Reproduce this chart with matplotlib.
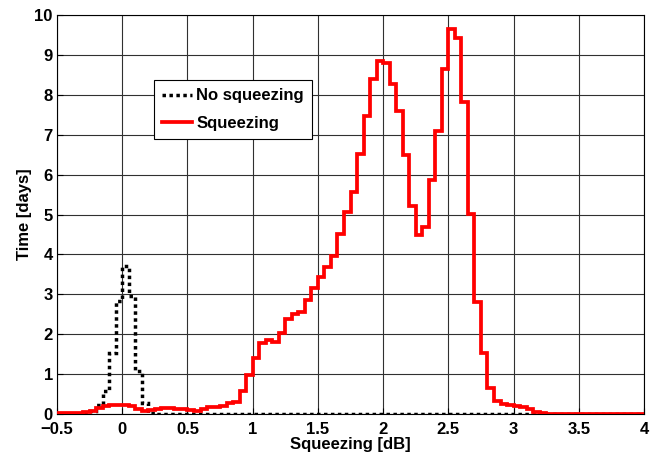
import numpy as np
import matplotlib
matplotlib.use('Agg')
import matplotlib.pyplot as plt

# bords des classes : pas de 0.05 dB de -0.5 a 4
bin_start = -0.5
bin_width = 0.05
n_bins = 90

# Sans squeezing (a partir de -0.3 dB)
no_sq_start = -0.3
no_sq_values = [0.03, 0.08, 0.22, 0.58, 1.53, 2.83, 3.72, 2.95, 1.07, 0.27, 0.03]

# Avec squeezing (a partir de -0.5 dB)
sq_values = [0.025, 0.025, 0.025, 0.025, 0.04, 0.08, 0.14, 0.19, 0.22, 0.23,
             0.23, 0.21, 0.13, 0.07, 0.09, 0.12, 0.14, 0.15, 0.13, 0.12,
             0.11, 0.08, 0.12, 0.17, 0.18, 0.19, 0.27, 0.30, 0.57, 0.98,
             1.41, 1.77, 1.85, 1.80, 2.02, 2.37, 2.50, 2.56, 2.87, 3.17,
             3.44, 3.69, 3.97, 4.51, 5.07, 5.57, 6.53, 7.47, 8.40, 8.85,
             8.80, 8.27, 7.60, 6.49, 5.21, 4.49, 4.68, 5.86, 7.09, 8.64,
             9.65, 9.43, 7.83, 5.01, 2.80, 1.52, 0.66, 0.33, 0.25, 0.23,
             0.20, 0.17, 0.12, 0.06, 0.02]

x_ticks = [-0.5, 0, 0.5, 1, 1.5, 2, 2.5, 3, 3.5, 4]
x_tick_labels = ['\u22120.5', '0', '0.5', '1', '1.5', '2', '2.5', '3', '3.5', '4']
y_ticks = list(range(0, 11))

edges = bin_start + bin_width * np.arange(n_bins + 1)

no_sq = np.zeros(n_bins)
i0 = int(round((no_sq_start - bin_start) / bin_width))
no_sq[i0:i0 + len(no_sq_values)] = no_sq_values

sq = np.zeros(n_bins)
sq[:len(sq_values)] = sq_values

plt.rcParams['font.family'] = ['Liberation Sans', 'DejaVu Sans']
plt.rcParams['font.weight'] = 'bold'

fig = plt.figure(figsize=(6.6, 4.58), dpi=100)
ax = fig.add_axes([0.0864, 0.0961, 0.8894, 0.8709])

ax.stairs(no_sq, edges, color='black', lw=2.5, linestyle=(0, (1, 1)),
          label='No squeezing', zorder=3)
ax.stairs(sq, edges, color='red', lw=2.7, label='Squeezing', zorder=4)

ax.set_xlim(-0.5, 4)
ax.set_ylim(0, 10)
ax.set_xticks(x_ticks)
ax.set_xticklabels(x_tick_labels)
ax.set_yticks(y_ticks)
ax.tick_params(axis='both', labelsize=12, direction='in', length=4, width=0.8)
ax.tick_params(axis='x', pad=6)
ax.tick_params(axis='y', pad=3)
for lab in ax.get_xticklabels() + ax.get_yticklabels():
    lab.set_fontweight('bold')

ax.grid(True, color='#303030', lw=0.8)
ax.set_axisbelow(True)
for s in ax.spines.values():
    s.set_linewidth(0.8)

ax.set_xlabel('Squeezing [dB]', fontsize=12, fontweight='bold', labelpad=0)
ax.set_ylabel('Time [days]', fontsize=12, fontweight='bold', labelpad=2)

leg = ax.legend(loc='upper left', bbox_to_anchor=(0.165, 0.837), fontsize=12,
                frameon=True, fancybox=False, framealpha=1, edgecolor='black',
                handlelength=1.8, handletextpad=0.25, borderpad=0.5,
                labelspacing=0.75, borderaxespad=0)
leg.get_frame().set_linewidth(0.8)
for t in leg.get_texts():
    t.set_fontweight('bold')

fig.savefig('out.png', dpi=100)
